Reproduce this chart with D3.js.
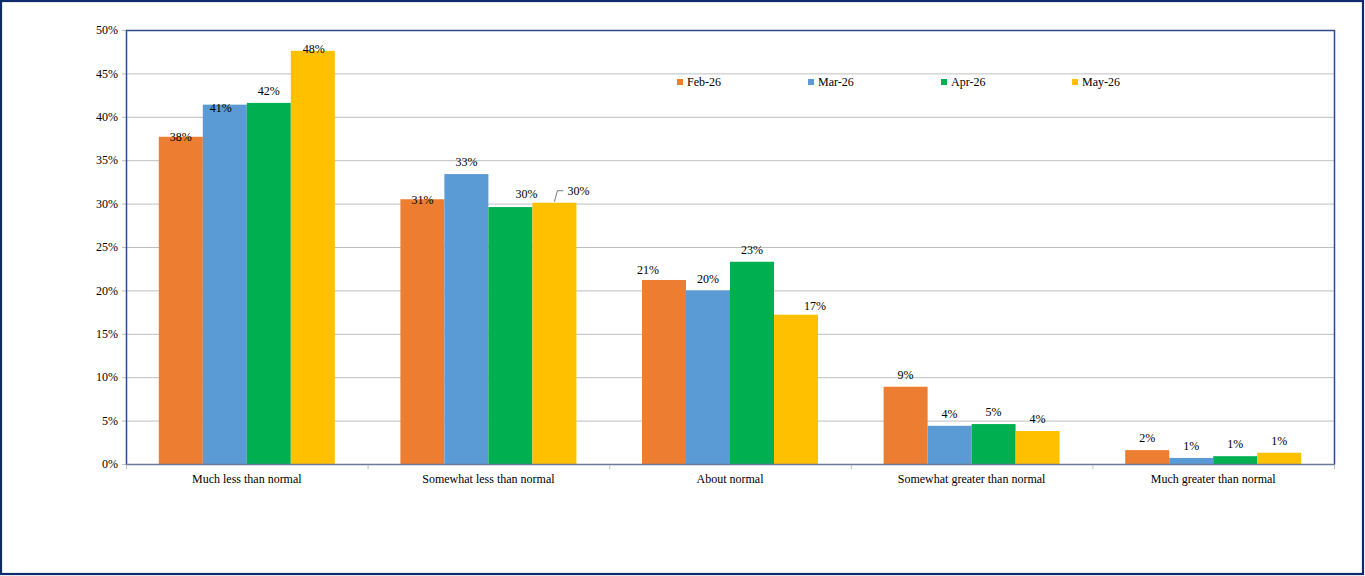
<!DOCTYPE html>
<html>
<head>
<meta charset="utf-8">
<script src="https://cdn.jsdelivr.net/npm/d3@7"></script>
<style>
  body { margin: 0; background: #fff; }
  text { font-family: "Liberation Serif", "Times New Roman", serif; fill: #000; }
</style>
</head>
<body>
<svg id="chart" width="1365" height="576"></svg>
<script>
// data
var categories = ["Much less than normal", "Somewhat less than normal", "About normal",
                  "Somewhat greater than normal", "Much greater than normal"];
var series = ["Feb-26", "Mar-26", "Apr-26", "May-26"];
var feb = [0.377, 0.305, 0.212, 0.089, 0.016];
var mar = [0.414, 0.334, 0.200, 0.044, 0.007];
var apr = [0.416, 0.296, 0.233, 0.046, 0.009];
var may = [0.476, 0.301, 0.172, 0.038, 0.013];
var yTicks = [0, 0.05, 0.10, 0.15, 0.20, 0.25, 0.30, 0.35, 0.40, 0.45, 0.50];

var values = [feb, mar, apr, may];
var colors = ["#ED7D31", "#5B9BD5", "#00B050", "#FFC000"];

// label nudges, keyed "series,category" -> [dx, dy] (placement only)
var nudge = {
  "0,0": [0, 12], "1,0": [-4, 15], "3,0": [1, 10],
  "0,1": [0, 13], "2,1": [16, -1], "3,1": [24, 0],
  "0,2": [-16, 2], "3,2": [19, 3]
};

var svg = d3.select("#chart");

// outer frame
svg.append("rect")
    .attr("x", 1).attr("y", 1).attr("width", 1362).attr("height", 573)
    .attr("fill", "none").attr("stroke", "#0e2a6a").attr("stroke-width", 2.2);

var plotLeft = 126, plotRight = 1334, plotTop = 30, plotBottom = 464;

var x0 = d3.scaleBand().domain(categories).range([plotLeft, plotRight]);
var inset = (x0.bandwidth() - 176) / 2;
var x1 = d3.scaleBand().domain(series).range([inset, inset + 176]);
var y = d3.scaleLinear().domain([0, 0.5]).range([plotBottom, plotTop]);

// gridlines + y ticks
svg.append("g").selectAll("line")
  .data(yTicks)
  .enter().append("line")
    .attr("x1", plotLeft - 4).attr("x2", plotRight)
    .attr("y1", function(d) { return y(d) + 0.5; })
    .attr("y2", function(d) { return y(d) + 0.5; })
    .attr("stroke", "#bfbfbf").attr("stroke-width", 1);

svg.append("g").selectAll("text")
  .data(yTicks)
  .enter().append("text")
    .attr("x", plotLeft - 8)
    .attr("y", function(d) { return y(d); })
    .attr("dy", "0.35em")
    .attr("text-anchor", "end")
    .style("font-size", "12px")
    .text(d3.format(".0%"));

// bars
var groups = svg.append("g").selectAll("g")
  .data(series)
  .enter().append("g")
    .attr("fill", function(d, i) { return colors[i]; });

function rows(s, si) {
  return categories.map(function(c, ci) { return {s: s, si: si, c: c, ci: ci, v: values[si][ci]}; });
}

groups.selectAll("rect")
  .data(rows)
  .enter().append("rect")
    .attr("x", function(d) { return x0(d.c) + x1(d.s); })
    .attr("width", x1.bandwidth())
    .attr("y", function(d) { return y(d.v); })
    .attr("height", function(d) { return plotBottom - y(d.v); });

// plot area frame (left, top, right navy; bottom axis grey-blue)
svg.append("path")
    .attr("d", "M" + (plotLeft + 0.5) + "," + (plotBottom + 0.5) + "V" + (plotTop + 0.5) +
               "H" + (plotRight + 0.5) + "V" + (plotBottom + 0.5))
    .attr("fill", "none").attr("stroke", "#2f4b8a").attr("stroke-width", 1.5);

svg.append("line")
    .attr("x1", plotLeft).attr("x2", plotRight + 1)
    .attr("y1", plotBottom + 0.5).attr("y2", plotBottom + 0.5)
    .attr("stroke", "#6c7a99").attr("stroke-width", 1.5);

// category ticks below axis
svg.append("g").selectAll("line")
  .data(d3.range(categories.length + 1))
  .enter().append("line")
    .attr("x1", function(i) { return plotLeft + i * x0.bandwidth() + 0.5; })
    .attr("x2", function(i) { return plotLeft + i * x0.bandwidth() + 0.5; })
    .attr("y1", plotBottom + 1).attr("y2", plotBottom + 5)
    .attr("stroke", "#bfbfbf");

// category labels
svg.append("g").selectAll("text")
  .data(categories)
  .enter().append("text")
    .attr("x", function(d) { return x0(d) + x0.bandwidth() / 2; })
    .attr("y", plotBottom + 15)
    .attr("dy", "0.35em")
    .attr("text-anchor", "middle")
    .style("font-size", "12px")
    .text(function(d) { return d; });

// value labels
var fmt = d3.format(".0%");
groups.selectAll("text")
  .data(rows)
  .enter().append("text")
    .attr("x", function(d) {
      var n = nudge[d.si + "," + d.ci] || [0, 0];
      return x0(d.c) + x1(d.s) + x1.bandwidth() / 2 + n[0];
    })
    .attr("y", function(d) {
      var n = nudge[d.si + "," + d.ci] || [0, 0];
      return y(d.v) - 12 + n[1];
    })
    .attr("dy", "0.35em")
    .attr("text-anchor", "middle")
    .style("font-size", "12px")
    .style("fill", "#000")
    .text(function(d) { return fmt(d.v); });

// leader line for May-26 / Somewhat less than normal
(function() {
  var bx = x0(categories[1]) + x1(series[3]) + x1.bandwidth() / 2;
  var by = y(may[1]);
  svg.append("path")
      .attr("d", "M" + bx + "," + (by - 1) + "L" + (bx + 3) + "," + (by - 12) + "H" + (bx + 9))
      .attr("fill", "none").attr("stroke", "#595959").attr("stroke-width", 0.8);
})();

// legend
var legendX = [677, 808, 941, 1072];
var legend = svg.append("g").selectAll("g")
  .data(series)
  .enter().append("g")
    .attr("transform", function(d, i) { return "translate(" + legendX[i] + ",79)"; });

legend.append("rect")
    .attr("width", 6).attr("height", 6)
    .attr("fill", function(d, i) { return colors[i]; });

legend.append("text")
    .attr("x", 10).attr("y", 3)
    .attr("dy", "0.35em")
    .style("font-size", "12px")
    .text(function(d) { return d; });
</script>
</body>
</html>
